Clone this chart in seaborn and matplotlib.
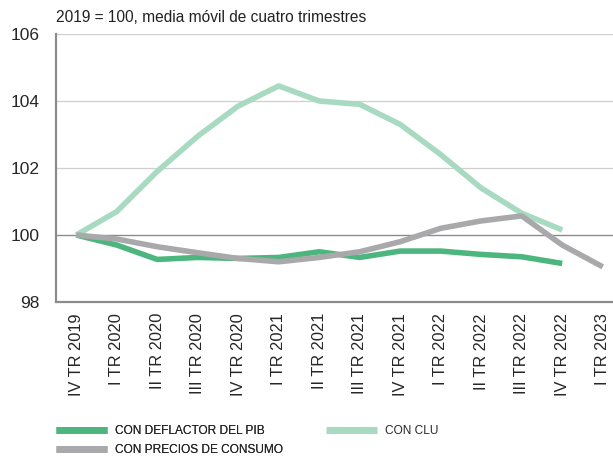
import numpy as np
import pandas as pd
import matplotlib
matplotlib.use("Agg")
import matplotlib.pyplot as plt
import seaborn as sns
from matplotlib.lines import Line2D

# Data
quarters = ["IV TR 2019", "I TR 2020", "II TR 2020", "III TR 2020", "IV TR 2020",
            "I TR 2021", "II TR 2021", "III TR 2021", "IV TR 2021", "I TR 2022",
            "II TR 2022", "III TR 2022", "IV TR 2022", "I TR 2023"]
deflactor_pib = [100.0, 99.7, 99.27, 99.33, 99.3, 99.33, 99.5, 99.33, 99.52, 99.52,
                 99.42, 99.35, 99.15, np.nan]
clu = [100.0, 100.7, 101.9, 102.95, 103.85, 104.45, 104.0, 103.9, 103.3, 102.4,
       101.4, 100.65, 100.15, np.nan]
precios_consumo = [100.0, 99.88, 99.65, 99.47, 99.3, 99.2, 99.33, 99.5, 99.8, 100.2,
                   100.42, 100.57, 99.7, 99.05]

series_names = ["CON DEFLACTOR DEL PIB", "CON CLU", "CON PRECIOS DE CONSUMO"]
colors = {"CON DEFLACTOR DEL PIB": "#4db67e",
          "CON CLU": "#a8d9c1",
          "CON PRECIOS DE CONSUMO": "#a9a9ab"}

df = pd.DataFrame({
    "idx": list(range(len(quarters))) * 3,
    "valor": deflactor_pib + clu + precios_consumo,
    "serie": np.repeat(series_names, len(quarters)),
})

sns.set_style("white")
plt.rcParams["font.family"] = ["Liberation Sans", "DejaVu Sans"]

fig = plt.figure(figsize=(6.13, 4.57), dpi=100)
step = 40.5 / 613
ax = fig.add_axes([56 / 613, 1 - 302 / 457, 14 * step, (302 - 34) / 457])

sns.lineplot(data=df, x="idx", y="valor", hue="serie", hue_order=series_names,
             palette=colors, linewidth=4.0, ax=ax, legend=False)
for line in ax.lines:
    line.set_solid_capstyle("butt")
# consumer prices on top
ax.lines[0].set_zorder(3)
ax.lines[1].set_zorder(3)
ax.lines[2].set_zorder(4)

ax.set_xlim(-0.5, 13.5)
ax.set_ylim(98, 106)
ax.set_yticks([98, 100, 102, 104, 106])
ax.set_yticklabels(["98", "100", "102", "104", "106"], fontsize=12.5)
for y in [102, 104, 106]:
    ax.axhline(y, color="#cfcfcf", linewidth=0.9, zorder=1)
ax.axhline(100, color="#8c8c8c", linewidth=1.0, zorder=1)

ax.set_xticks(range(len(quarters)))
ax.set_xticklabels(quarters, rotation=90, fontsize=11.8)
ax.tick_params(axis="x", length=0, pad=8)
ax.tick_params(axis="y", length=0, pad=12)
ax.set_xticks(np.arange(0.5, 13.5, 1), minor=True)
ax.tick_params(axis="x", which="minor", direction="in", length=7, color="#8c8c8c", width=1)
ax.set_xlabel("")
ax.set_ylabel("")

for s in ["top", "right"]:
    ax.spines[s].set_visible(False)
for s in ["left", "bottom"]:
    ax.spines[s].set_color("#8c8c8c")
    ax.spines[s].set_linewidth(1.6)

fig.text(56 / 613, 1 - 18 / 457, "2019 = 100, media móvil de cuatro trimestres",
         fontsize=11.2, va="center", ha="left", color="#222222")

# Legend: two blocks placed by hand
handles = {n: Line2D([0], [0], color=colors[n], linewidth=5, solid_capstyle="butt")
           for n in series_names}
leg_kw = dict(frameon=False, prop={"size": 8.6}, handlelength=4.3, handletextpad=0.68,
              labelspacing=0.6, borderpad=0, borderaxespad=0, loc="upper left")
leg1 = fig.legend([handles[series_names[0]], handles[series_names[2]]],
                  [series_names[0], series_names[2]],
                  bbox_to_anchor=(56 / 613, 1 - 425 / 457), **leg_kw)
fig.add_artist(leg1)
fig.legend([handles[series_names[1]]], [series_names[1]],
           bbox_to_anchor=(326 / 613, 1 - 425 / 457), **leg_kw)

fig.savefig("out.png", dpi=100)
